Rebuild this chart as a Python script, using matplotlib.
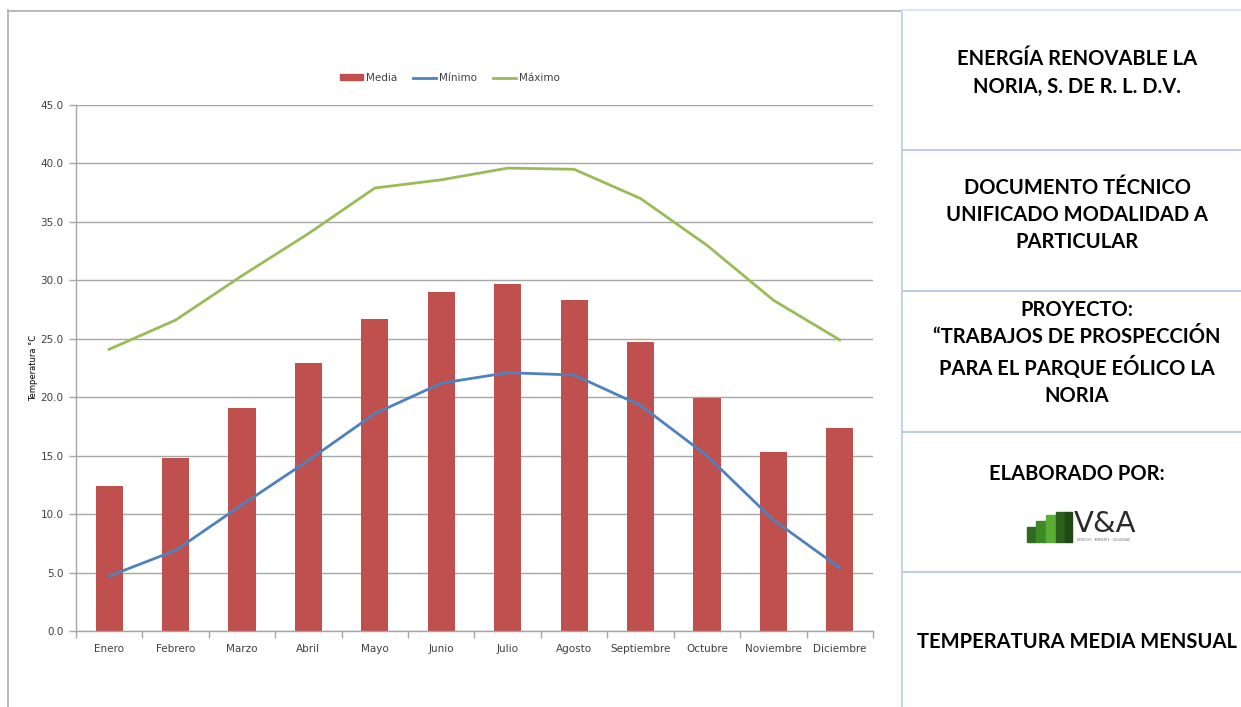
import matplotlib
matplotlib.use("Agg")
import matplotlib.pyplot as plt
from matplotlib.patches import Rectangle
from matplotlib.lines import Line2D
import numpy as np

meses = ["Enero", "Febrero", "Marzo", "Abril", "Mayo", "Junio", "Julio",
         "Agosto", "Septiembre", "Octubre", "Noviembre", "Diciembre"]
media = [12.4, 14.8, 19.1, 22.9, 26.7, 29.0, 29.7, 28.3, 24.7, 19.9, 15.3, 17.4]
minimo = [4.7, 6.9, 10.8, 14.6, 18.6, 21.2, 22.1, 21.9, 19.3, 15.0, 9.5, 5.4]
maximo = [24.1, 26.6, 30.4, 34.0, 37.9, 38.6, 39.6, 39.5, 37.0, 33.0, 28.3, 24.9]
yticks = np.arange(0, 45.1, 5)

panel_textos = [
    "ENERGÍA RENOVABLE LA\nNORIA, S. DE R. L. D.V.",
    "DOCUMENTO TÉCNICO\nUNIFICADO MODALIDAD A\nPARTICULAR",
    "PROYECTO:\n\u201cTRABAJOS DE PROSPECCIÓN\nPARA EL PARQUE EÓLICO LA\nNORIA",
    "ELABORADO POR:",
    "TEMPERATURA MEDIA MENSUAL",
]

c_media = "#C0504D"
c_min = "#4F81BD"
c_max = "#9BBB59"
gris = "#A6A6A6"
texto = "#404040"

W, H = 1241, 707
fig = plt.figure(figsize=(W / 100, H / 100), dpi=100)
fig.patch.set_facecolor("white")

def fx(px):
    return px / W

def fy(py):
    return 1 - py / H

ax = fig.add_axes([fx(76), fy(631), fx(873) - fx(76), fy(105) - fy(631)])
x = np.arange(len(meses))
ax.bar(x, media, width=0.41, color=c_media, zorder=2, label="Media")
ax.plot(x, minimo, color=c_min, lw=2, zorder=3, label="Mínimo")
ax.plot(x, maximo, color=c_max, lw=2, zorder=3, label="Máximo")

ax.set_xlim(-0.5, len(meses) - 0.5)
ax.set_ylim(0, 45)
ax.set_yticks(yticks)
ax.set_yticklabels([f"{v:.1f}" for v in yticks], fontsize=7.5, color=texto)
ax.set_xticks(x)
ax.set_xticklabels(meses, fontsize=7.5, color=texto)
ax.set_xticks(np.arange(-0.5, len(meses)), minor=True)
ax.tick_params(axis="x", which="major", length=0, pad=9)
ax.tick_params(axis="x", which="minor", length=5, color=gris, width=1)
ax.tick_params(axis="y", length=5, color=gris, width=1, pad=4)
ax.yaxis.grid(True, color=gris, lw=1, zorder=0)
ax.set_axisbelow(True)
for s in ["top", "right"]:
    ax.spines[s].set_visible(False)
for s in ["left", "bottom"]:
    ax.spines[s].set_color(gris)
    ax.spines[s].set_linewidth(1)
ax.set_ylabel("Temperatura °C", fontsize=6, color="black", labelpad=2)

handles = [Rectangle((0, 0), 1, 1, color=c_media),
           Line2D([], [], color=c_min, lw=2),
           Line2D([], [], color=c_max, lw=2)]
fig.legend(handles, ["Media", "Mínimo", "Máximo"], loc="center",
           bbox_to_anchor=(fx(450), fy(78)), ncol=3, frameon=False,
           fontsize=7.5, handlelength=2.2, handleheight=0.5,
           columnspacing=1.5, handletextpad=0.3, labelcolor=texto)

# marco del área del gráfico
fig.add_artist(Line2D([fx(8), fx(8)], [fy(10), fy(707)], color="#B4B4B4", lw=1.3))
fig.add_artist(Line2D([fx(8), fx(902)], [fy(10.5), fy(10.5)], color="#B4B4B4", lw=1.3))

# panel derecho
azul = "#BCCFE6"
fig.add_artist(Line2D([fx(902), fx(902)], [fy(10), fy(707)], color="#C5D5E8", lw=1.5))
fig.add_artist(Line2D([fx(902), fx(1241)], [fy(10), fy(10)], color="#DDE6F0", lw=1.5))
for py in [150, 291, 432, 572]:
    fig.add_artist(Line2D([fx(902), fx(1241)], [fy(py), fy(py)], color=azul, lw=1.5))

cx = fx(1077)
fuente = dict(family="Lato", fontweight="bold", fontsize=14.5,
              ha="center", va="center", color="black", linespacing=1.45)
fig.text(cx, fy(73), panel_textos[0], **fuente)
fig.text(cx, fy(215), panel_textos[1], **fuente)
fig.text(cx, fy(353), panel_textos[2], **fuente)
fig.text(cx, fy(474), panel_textos[3], **fuente)
fig.text(cx, fy(642), panel_textos[4], **fuente)

# logotipo V&A
verdes = ["#2F6B1F", "#3E8A26", "#5AAE35", "#2D5E1B", "#1F4A14"]
bloques = [(1027, 527, 9, 15), (1036, 521, 10, 21), (1046, 515, 10, 27),
           (1056, 512, 9, 30), (1065, 512, 7, 30)]
for (bx, by, bw, bh), col in zip(bloques, verdes):
    fig.add_artist(Rectangle((fx(bx), fy(by + bh)), bw / W, bh / H,
                             color=col, transform=fig.transFigure))
fig.text(fx(1074), fy(524), "V&A", family="DejaVu Sans", fontsize=21,
         ha="left", va="center", color="#2B2B2B")
fig.text(fx(1077), fy(540), "DERECHO · AMBIENTE · SEGURIDAD", fontsize=2.2,
         ha="left", va="center", color="#777777")

fig.savefig("out.png", dpi=100, facecolor="white")
